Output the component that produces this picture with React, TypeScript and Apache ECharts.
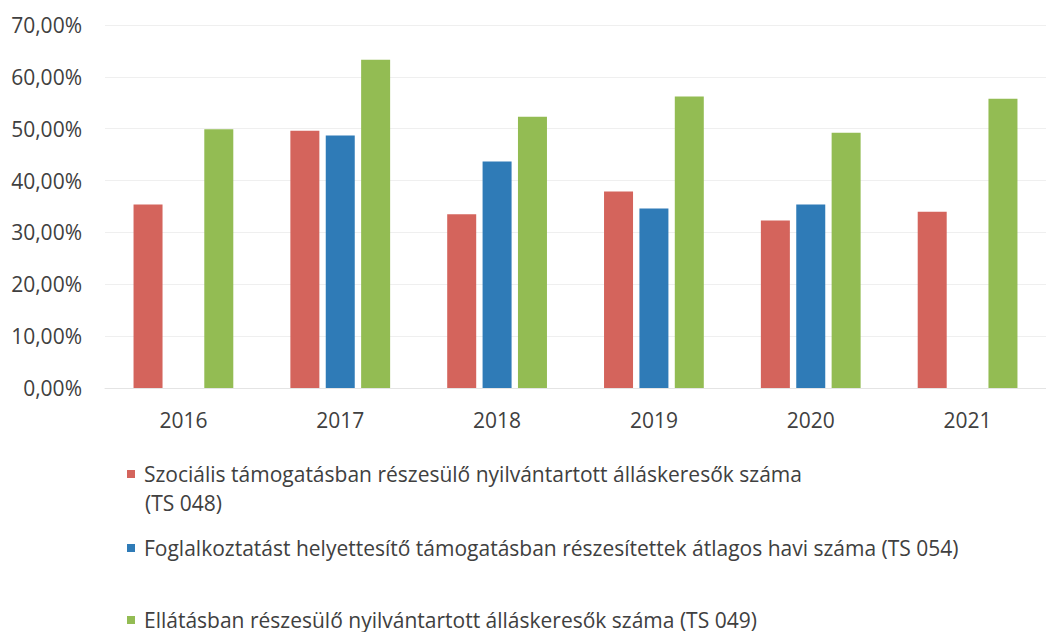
import React, { useEffect, useRef } from "react";
import * as echarts from "echarts";

const categories = ["2016", "2017", "2018", "2019", "2020", "2021"];
const seriesNames = [
  "Szociális támogatásban részesülő nyilvántartott álláskeresők száma (TS 048)",
  "Foglalkoztatást helyettesítő támogatásban részesítettek átlagos havi száma (TS 054)",
  "Ellátásban részesülő nyilvántartott álláskeresők száma (TS 049)",
];
const ts048 = [35.4, 49.6, 33.5, 37.9, 32.3, 34.0];
const ts054 = [null, 48.7, 43.7, 34.6, 35.4, null];
const ts049 = [49.9, 63.3, 52.3, 56.2, 49.2, 55.8];
const colors = ["#d4645c", "#2f7bb7", "#93bc53"];
const yTicks = [0, 10, 20, 30, 40, 50, 60, 70];

const FONT = "'Open Sans', sans-serif";
const TEXT = "#404040";

export default function App() {
  const ref = useRef<HTMLDivElement>(null);
  useEffect(() => {
    if (!ref.current) return;
    const chart = echarts.init(ref.current, null, { renderer: "svg" });
    const legendBase = {
      orient: "vertical",
      left: 127,
      padding: 0,
      icon: "rect",
      itemWidth: 8,
      itemHeight: 8,
      textStyle: {
        fontFamily: FONT,
        fontSize: 21,
        color: TEXT,
        lineHeight: 24,
        padding: [0, 0, 0, 4],
      },
    };
    chart.setOption({
      animation: false,
      color: colors,
      textStyle: { fontFamily: FONT },
      grid: { left: 105, right: -10, top: 25, bottom: 244, containLabel: false },
      xAxis: {
        type: "category",
        data: categories,
        axisTick: { show: false },
        axisLine: { show: true, lineStyle: { color: "#e4e4e4", width: 1 } },
        axisLabel: { fontFamily: FONT, fontSize: 21, color: TEXT, margin: 21 },
      },
      yAxis: {
        type: "value",
        min: yTicks[0],
        max: yTicks[yTicks.length - 1],
        interval: 10,
        axisLine: { show: false },
        axisTick: { show: false },
        splitLine: { lineStyle: { color: "#efefef", width: 1 } },
        axisLabel: {
          fontFamily: FONT,
          fontSize: 21,
          color: TEXT,
          margin: 23,
          formatter: (v: number) => v.toFixed(2).replace(".", ",") + "%",
        },
      },
      legend: [
        {
          ...legendBase,
          top: 462,
          data: [seriesNames[0]],
          formatter: () => "Szociális támogatásban részesülő nyilvántartott álláskeresők száma",
        },
        { ...legendBase, top: 536, data: [seriesNames[1]] },
        { ...legendBase, top: 608, data: [seriesNames[2]] },
      ],
      graphic: [
        {
          type: "text",
          left: 145,
          top: 492,
          style: { text: "(TS 048)", fontFamily: FONT, fontSize: 21, fill: TEXT },
        },
      ],
      series: [
        { name: seriesNames[0], type: "bar", data: ts048, barWidth: 29, barGap: "22%" },
        { name: seriesNames[1], type: "bar", data: ts054, barWidth: 29, barGap: "22%" },
        { name: seriesNames[2], type: "bar", data: ts049, barWidth: 29, barGap: "22%" },
      ],
    });
    return () => chart.dispose();
  }, []);
  return (
    <div
      ref={ref}
      style={{ position: "absolute", left: 0, top: 0, width: 1046, height: 632, background: "#fff" }}
    />
  );
}
